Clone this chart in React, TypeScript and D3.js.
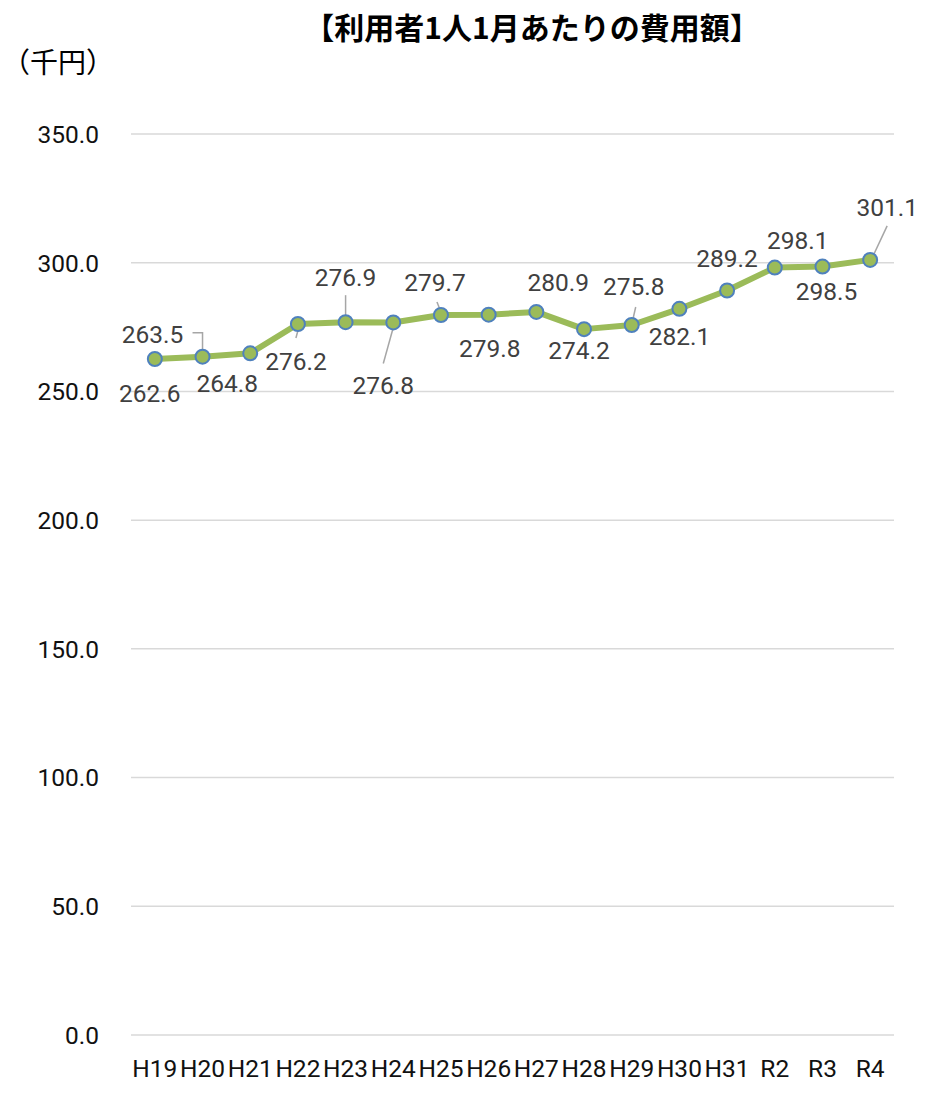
import React from "react";
import * as d3 from "d3";

const categories = ["H19", "H20", "H21", "H22", "H23", "H24", "H25", "H26", "H27", "H28", "H29", "H30", "H31", "R2", "R3", "R4"];
const values = [262.6, 263.5, 264.8, 276.2, 276.9, 276.8, 279.7, 279.8, 280.9, 274.2, 275.8, 282.1, 289.2, 298.1, 298.5, 301.1];
const yTicks = [0, 50, 100, 150, 200, 250, 300, 350];
const title = "【利用者1人1月あたりの費用額】";
const unitLabel = "（千円）";

// label placement (offset of label center from point), layout only
const labelOffsets: [number, number][] = [
  [-5, 34], [-50, -22], [-23, 30], [-2, 37], [0, -45], [-10, 63], [-6, -33], [1, 33],
  [22, -30], [-5, 21], [2, -39], [0, 27], [0, -32], [23, -27], [4, 25], [17, -53],
];
// leader lines relative to point
const leaders: ([number, number][] | null)[] = [
  null,
  [[-10, -24], [0, -24], [0, -5]],
  null,
  [[-2, 14], [1, 3]],
  [[0, -27], [0, -3]],
  [[-10, 41], [0, 5]],
  [[-4, -13], [0, -3]],
  null,
  null,
  null,
  [[4, -18], [1, -5]],
  null,
  null,
  null,
  null,
  [[17, -34], [2, -2]],
];

export default function App() {
  const W = 937, H = 1095;
  const left = 131, right = 894, top = 134, bottom = 1035;
  const x = d3.scaleBand().domain(categories).range([left, right]).padding(0);
  const y = d3.scaleLinear().domain([0, 350]).range([bottom, top]);
  const cx = (i: number) => (x(categories[i]) as number) + x.bandwidth() / 2;
  const line = d3.line<number>().x((_, i) => cx(i)).y((d) => y(d));
  const numFont = "Roboto, 'Noto Sans', sans-serif";
  const fs = 24.5;
  return (
    <svg width={W} height={H} viewBox={`0 0 ${W} ${H}`} style={{ position: "absolute", left: 0, top: 0, background: "#fff" }}>
      <rect width={W} height={H} fill="#fff" />
      <text x={532} y={26} textAnchor="middle" dominantBaseline="central" fontFamily="'Noto Sans CJK JP', sans-serif" fontWeight={700} fontSize={30} fill="#000">{title}</text>
      <text x={2} y={61} dominantBaseline="central" fontFamily="'Noto Sans CJK JP', sans-serif" fontSize={28} fill="#000">{unitLabel}</text>
      {yTicks.map((t) => (
        <g key={t}>
          <line x1={left} x2={right} y1={y(t)} y2={y(t)} stroke="#D9D9D9" strokeWidth={1.5} />
          <text x={99} y={y(t) + fs * 0.36} textAnchor="end" fontFamily={numFont} fontSize={fs} fill="#111">{t.toFixed(1)}</text>
        </g>
      ))}
      {categories.map((c, i) => (
        <text key={c} x={cx(i)} y={1068 + fs * 0.36} textAnchor="middle" fontFamily={numFont} fontSize={fs} fill="#111">{c}</text>
      ))}
      {leaders.map((l, i) => l ? (
        <polyline key={"l" + i} points={l.map(([dx, dy]) => `${cx(i) + dx},${y(values[i]) + dy}`).join(" ")} fill="none" stroke="#A6A6A6" strokeWidth={1.5} />
      ) : null)}
      <path d={line(values) as string} fill="none" stroke="#9BBB59" strokeWidth={6} strokeLinejoin="round" />
      {values.map((v, i) => (
        <circle key={"c" + i} cx={cx(i)} cy={y(v)} r={7} fill="#9BBB59" stroke="#4F81BD" strokeWidth={2} />
      ))}
      {values.map((v, i) => (
        <text key={"t" + i} x={cx(i) + labelOffsets[i][0]} y={y(v) + labelOffsets[i][1] + fs * 0.36} textAnchor="middle" fontFamily={numFont} fontSize={fs} fill="#404040">{v.toFixed(1)}</text>
      ))}
    </svg>
  );
}
